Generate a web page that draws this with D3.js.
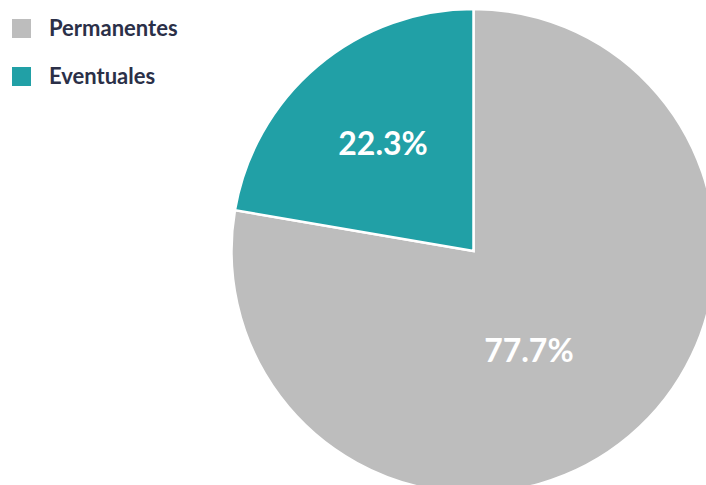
<!DOCTYPE html>
<meta charset="utf-8">
<style>
body { margin: 0; background: #fff; }
.legend text {
    font: bold 22px Lato, sans-serif;
    fill: #2b3048;
}
.labels text {
    font: bold 32px Lato, sans-serif;
    fill: #fff;
}
.slices path {
    stroke: #fff;
    stroke-width: 2.5px;
}
</style>

<svg width="706" height="485"></svg>
<script src="https://cdn.jsdelivr.net/npm/d3@7"></script>

<script>

var categories = ["Permanentes", "Eventuales"];
var values = [77.7, 22.3];
var colors = ["#bdbdbd", "#21a0a6"];

// label placement (fraction of radius, angle shift in degrees) per slice
var labelRadius = [0.47, 0.58];
var labelShift = [11, 0];

var svg = d3.select("svg"),
    cx = 473.5,
    cy = 251,
    radius = 242;

var data = categories.map(function(c, i) { return {name: c, value: values[i], i: i}; });

var pie = d3.pie()
    .sort(null)
    .value(function(d) { return d.value; });

var arc = d3.arc()
    .innerRadius(0)
    .outerRadius(radius);

var arcs = pie(data);

var g = svg.append("g")
    .attr("transform", "translate(" + cx + "," + cy + ")");

g.append("g")
    .attr("class", "slices")
  .selectAll("path")
  .data(arcs)
  .enter().append("path")
    .attr("d", arc)
    .attr("fill", function(d) { return colors[d.data.i]; });

g.append("g")
    .attr("class", "labels")
  .selectAll("text")
  .data(arcs)
  .enter().append("text")
    .attr("transform", function(d) {
        var a = (d.startAngle + d.endAngle) / 2 + labelShift[d.data.i] * Math.PI / 180,
            r = radius * labelRadius[d.data.i];
        return "translate(" + (Math.sin(a) * r) + "," + (-Math.cos(a) * r) + ")";
    })
    .attr("text-anchor", "middle")
    .attr("dy", "0.36em")
    .text(function(d) { return d3.format(".1f")(d.data.value) + "%"; });

// legend
var legend = svg.append("g")
    .attr("class", "legend")
  .selectAll("g")
  .data(data)
  .enter().append("g")
    .attr("transform", function(d, i) { return "translate(12," + (19 + i * 48) + ")"; });

legend.append("rect")
    .attr("width", 19)
    .attr("height", 19)
    .attr("fill", function(d) { return colors[d.i]; });

legend.append("text")
    .attr("x", 37)
    .attr("y", 9.5)
    .attr("dy", "0.36em")
    .text(function(d) { return d.name; });

</script>
